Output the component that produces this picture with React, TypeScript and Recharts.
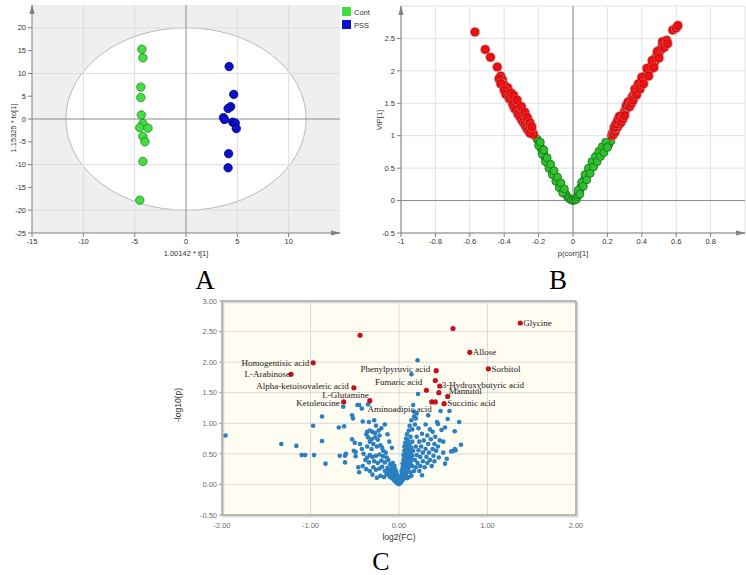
import React from "react";
import {
  ScatterChart,
  Scatter,
  XAxis,
  YAxis,
  CartesianGrid,
  ReferenceLine,
  ReferenceArea,
  ReferenceDot,
} from "recharts";

// ---------- Panel A: OPLS-DA score plot ----------
const contT = [-4.3, -4.2, -4.4, -4.4, -4.35, -4.2, -4.5, -3.7, -4.2, -4.0, -4.2, -4.5];
const contTo = [15.3, 13.4, 7.0, 4.7, 0.9, -1.0, -1.9, -2.0, -3.8, -5.0, -9.3, -17.8];
const pssT = [4.2, 4.65, 4.35, 4.1, 3.65, 3.75, 4.55, 4.8, 4.9, 4.15, 4.1];
const pssTo = [11.5, 5.4, 2.7, 2.3, 0.3, -0.1, -0.7, -0.9, -2.1, -7.6, -10.7];
const aTicksX = [-15, -10, -5, 0, 5, 10];
const aTicksY = [-25, -20, -15, -10, -5, 0, 5, 10, 15, 20];
const groupNames = ["Cont", "PSS"];

// ---------- Panel B: VIP vs p(corr) ----------
const bRed: [number, number][] = [
  [-0.57, 2.6], [-0.51, 2.33], [-0.48, 2.21], [-0.44, 2.06], [-0.42, 1.92], [-0.41, 1.86],
  [-0.415, 1.82], [-0.4, 1.78], [-0.395, 1.72], [-0.385, 1.68], [-0.38, 1.74], [-0.37, 1.64],
  [-0.36, 1.6], [-0.355, 1.55], [-0.35, 1.62], [-0.345, 1.5], [-0.34, 1.56], [-0.335, 1.47],
  [-0.33, 1.52], [-0.325, 1.42], [-0.32, 1.46], [-0.315, 1.38], [-0.31, 1.44], [-0.305, 1.33],
  [-0.3, 1.38], [-0.295, 1.28], [-0.29, 1.33], [-0.285, 1.24], [-0.28, 1.28], [-0.275, 1.2],
  [-0.27, 1.24], [-0.265, 1.15], [-0.26, 1.18], [-0.255, 1.1], [-0.25, 1.13], [-0.245, 1.06],
  [-0.24, 1.08], [-0.235, 1.04], [-0.23, 1.02],
  [-0.43, 1.88], [-0.42, 1.8], [-0.4, 1.7], [-0.39, 1.64], [-0.37, 1.57], [-0.36, 1.66],
  [-0.35, 1.48], [-0.34, 1.42], [-0.33, 1.4], [-0.32, 1.33], [-0.31, 1.3], [-0.3, 1.25],
  [-0.29, 1.21], [-0.28, 1.17], [-0.27, 1.12], [-0.26, 1.08], [-0.25, 1.04], [-0.345, 1.62],
  [-0.325, 1.55], [-0.3, 1.45], [-0.28, 1.36], [-0.265, 1.28], [-0.25, 1.2], [-0.24, 1.14],
  [0.225, 1.0], [0.23, 1.04], [0.235, 1.02], [0.24, 1.08], [0.245, 1.06], [0.25, 1.12],
  [0.255, 1.15], [0.26, 1.14], [0.265, 1.2], [0.27, 1.18], [0.275, 1.24], [0.28, 1.27],
  [0.285, 1.29], [0.29, 1.32], [0.295, 1.34], [0.3, 1.37], [0.305, 1.4], [0.31, 1.42],
  [0.315, 1.45], [0.32, 1.46], [0.325, 1.5], [0.33, 1.52], [0.335, 1.54], [0.34, 1.57],
  [0.345, 1.59], [0.35, 1.62], [0.36, 1.65], [0.365, 1.68], [0.37, 1.71], [0.38, 1.75],
  [0.39, 1.8], [0.4, 1.84], [0.41, 1.88], [0.42, 1.92], [0.435, 1.98], [0.45, 2.03],
  [0.46, 2.09], [0.475, 2.14], [0.48, 2.2], [0.49, 2.24], [0.5, 2.28], [0.51, 2.33],
  [0.52, 2.38], [0.53, 2.43], [0.58, 2.63], [0.6, 2.66], [0.61, 2.7],
  [0.24, 1.13], [0.25, 1.18], [0.26, 1.24], [0.27, 1.3], [0.28, 1.21], [0.29, 1.26],
  [0.3, 1.31], [0.31, 1.47], [0.32, 1.52], [0.33, 1.45], [0.34, 1.5], [0.35, 1.55],
  [0.36, 1.72], [0.37, 1.63], [0.38, 1.8], [0.39, 1.72], [0.4, 1.9], [0.41, 1.8],
  [0.43, 2.04], [0.44, 1.92], [0.46, 2.16], [0.47, 2.05], [0.49, 2.3], [0.5, 2.2],
  [0.52, 2.45], [0.53, 2.36], [0.545, 2.47], [0.55, 2.42],
];
const bGreen: [number, number][] = [
  [-0.21, 0.95], [-0.2, 0.91], [-0.195, 0.88], [-0.19, 0.84], [-0.185, 0.8], [-0.18, 0.78],
  [-0.175, 0.74], [-0.17, 0.71], [-0.165, 0.68], [-0.16, 0.66], [-0.155, 0.62], [-0.15, 0.6],
  [-0.145, 0.57], [-0.14, 0.55], [-0.135, 0.52], [-0.13, 0.5], [-0.125, 0.47], [-0.12, 0.45],
  [-0.115, 0.42], [-0.11, 0.4], [-0.1, 0.36], [-0.095, 0.33], [-0.09, 0.3], [-0.085, 0.28],
  [-0.08, 0.25], [-0.07, 0.21], [-0.065, 0.18], [-0.06, 0.16], [-0.05, 0.12], [-0.04, 0.09],
  [-0.03, 0.05], [-0.02, 0.03], [-0.01, 0.01], [0, 0.0],
  [-0.2, 0.85], [-0.19, 0.9], [-0.18, 0.72], [-0.17, 0.78], [-0.16, 0.6], [-0.15, 0.66],
  [-0.14, 0.5], [-0.13, 0.56], [-0.12, 0.4], [-0.11, 0.46], [-0.1, 0.3], [-0.09, 0.36],
  [-0.08, 0.2], [-0.07, 0.27], [-0.06, 0.12], [-0.05, 0.18],
  [0.01, 0.01], [0.02, 0.02], [0.025, 0.06], [0.03, 0.09], [0.035, 0.12], [0.04, 0.16],
  [0.045, 0.2], [0.05, 0.22], [0.055, 0.26], [0.06, 0.28], [0.065, 0.31], [0.07, 0.34],
  [0.075, 0.36], [0.08, 0.38], [0.085, 0.41], [0.09, 0.44], [0.095, 0.46], [0.1, 0.48],
  [0.105, 0.5], [0.11, 0.53], [0.115, 0.56], [0.12, 0.58], [0.125, 0.6], [0.13, 0.62],
  [0.135, 0.64], [0.14, 0.66], [0.145, 0.69], [0.15, 0.71], [0.16, 0.74], [0.17, 0.77],
  [0.18, 0.8], [0.19, 0.84], [0.2, 0.87], [0.205, 0.85], [0.21, 0.88], [0.22, 0.92],
  [0.03, 0.16], [0.04, 0.1], [0.05, 0.28], [0.06, 0.22], [0.07, 0.4], [0.08, 0.32],
  [0.09, 0.5], [0.1, 0.42], [0.11, 0.6], [0.12, 0.52], [0.13, 0.68], [0.14, 0.6],
  [0.15, 0.76], [0.16, 0.68], [0.17, 0.83], [0.18, 0.74], [0.19, 0.9], [0.2, 0.82],
];
const bTicksX = [-1, -0.8, -0.6, -0.4, -0.2, 0, 0.2, 0.4, 0.6, 0.8];
const bTicksY = [-0.5, 0, 0.5, 1, 1.5, 2, 2.5];

// ---------- Panel C: volcano plot ----------
const redFC = [1.37, 0.61, -0.44, 0.8, -0.97, 1.01, -1.22, 0.42, 0.41, 0.46, -0.51, 0.31, 0.45, 0.55, -0.33, -0.625, 0.37, 0.41, 0.51];
const redP = [2.64, 2.55, 2.44, 2.16, 1.99, 1.89, 1.8, 1.86, 1.7, 1.61, 1.58, 1.54, 1.5, 1.44, 1.37, 1.35, 1.35, 1.35, 1.32];
const redNames = [
  "Glycine", "", "", "Allose", "Homogentisic acid", "Sorbitol", "L-Arabinose",
  "Phenylpyruvic acid", "Fumaric acid", "3-Hydroxybutyric acid", "Alpha-ketoisovaleric acid",
  "", "", "Mannitol", "L-Glutamine", "Ketoleucine", "Aminoadipic acid", "", "Succinic acid",
];
const blueCloud: [number, number][] = [
  [-1.96, 0.8], [-1.33, 0.66], [-1.16, 0.63], [-1.1, 0.48], [-1.06, 0.48], [-0.96, 0.48],
  [-0.97, 0.96], [-0.87, 1.11], [-0.87, 0.71], [-0.83, 0.34], [-0.68, 0.93], [-0.62, 0.95],
  [-0.63, 1.27], [-0.67, 0.47], [-0.61, 0.47], [-0.61, 0.36], [-0.6, 0.5], [-0.53, 1.13],
  [-0.52, 1.08], [-0.53, 0.74], [-0.51, 0.55], [-0.49, 0.53], [-0.49, 0.46], [-0.47, 1.3],
  [-0.45, 1.3], [-0.46, 0.28], [-0.45, 0.2], [-0.42, 1.24], [-0.41, 1.03], [-0.35, 1.31],
  [-0.28, 1.05], [-0.34, 1.02], [-0.44, 0.66], [-0.42, 0.58], [-0.5, 0.68],
  [-0.36, 0.86], [-0.33, 0.88], [-0.3, 0.86], [-0.37, 0.82], [-0.27, 0.84], [-0.23, 0.88],
  [-0.22, 0.8], [-0.35, 0.77], [-0.31, 0.74], [-0.27, 0.77], [-0.24, 0.73], [-0.33, 0.7],
  [-0.29, 0.66], [-0.25, 0.62], [-0.21, 0.64], [-0.19, 0.6], [-0.36, 0.62], [-0.31, 0.58],
  [-0.18, 0.55], [-0.15, 0.52], [-0.4, 0.5], [-0.36, 0.44], [-0.33, 0.48], [-0.3, 0.45],
  [-0.26, 0.47], [-0.22, 0.49], [-0.18, 0.46], [-0.14, 0.44], [-0.38, 0.4], [-0.34, 0.36],
  [-0.28, 0.38], [-0.24, 0.35], [-0.2, 0.39], [-0.16, 0.36], [-0.12, 0.4], [-0.1, 0.33],
  [-0.41, 0.3], [-0.37, 0.25], [-0.33, 0.22], [-0.29, 0.28], [-0.26, 0.24], [-0.22, 0.26],
  [-0.19, 0.29], [-0.16, 0.22], [-0.13, 0.27], [-0.11, 0.23], [-0.3, 0.16], [-0.25, 0.11],
  [-0.21, 0.14], [-0.17, 0.12], [-0.14, 0.17], [-0.08, 0.18], [-0.26, 0.96], [-0.2, 0.92],
  [-0.16, 0.98], [-0.13, 0.82], [-0.11, 0.7], [-0.08, 0.6],
  [-0.12, 0.15], [-0.1, 0.12], [-0.09, 0.16], [-0.08, 0.1], [-0.07, 0.13], [-0.06, 0.08],
  [-0.06, 0.11], [-0.05, 0.06], [-0.05, 0.09], [-0.04, 0.05], [-0.04, 0.07], [-0.03, 0.04],
  [-0.03, 0.06], [-0.02, 0.03], [-0.02, 0.02], [-0.01, 0.02], [-0.01, 0.01], [0, 0.005],
  [-0.11, 0.2], [-0.09, 0.22], [-0.07, 0.19], [-0.06, 0.15], [-0.05, 0.13], [-0.04, 0.11],
  [-0.03, 0.09], [-0.02, 0.07], [-0.08, 0.28], [-0.06, 0.25], [-0.05, 0.2], [-0.04, 0.17],
  [-0.03, 0.14], [-0.02, 0.11], [-0.01, 0.06], [-0.07, 0.35], [-0.05, 0.3], [-0.04, 0.24],
  [-0.03, 0.2], [-0.02, 0.15], [-0.01, 0.1],
  [0.01, 0.02], [0.01, 0.05], [0.02, 0.03], [0.02, 0.08], [0.02, 0.12], [0.03, 0.05],
  [0.03, 0.1], [0.03, 0.16], [0.03, 0.22], [0.04, 0.07], [0.04, 0.13], [0.04, 0.19],
  [0.04, 0.27], [0.04, 0.34], [0.05, 0.09], [0.05, 0.16], [0.05, 0.24], [0.05, 0.31],
  [0.05, 0.4], [0.05, 0.48], [0.06, 0.12], [0.06, 0.2], [0.06, 0.28], [0.06, 0.36],
  [0.06, 0.44], [0.06, 0.55], [0.06, 0.62], [0.07, 0.15], [0.07, 0.23], [0.07, 0.32],
  [0.07, 0.41], [0.07, 0.5], [0.07, 0.68], [0.08, 0.18], [0.08, 0.27], [0.08, 0.37],
  [0.08, 0.46], [0.08, 0.58], [0.08, 0.75], [0.09, 0.21], [0.09, 0.3], [0.09, 0.42],
  [0.09, 0.53], [0.09, 0.64], [0.09, 0.82], [0.1, 0.25], [0.1, 0.35], [0.1, 0.48],
  [0.1, 0.6], [0.1, 0.72], [0.11, 0.28], [0.11, 0.4], [0.11, 0.55], [0.11, 0.88],
  [0.12, 0.32], [0.12, 0.45], [0.12, 0.66], [0.12, 0.96], [0.13, 0.36], [0.13, 0.52],
  [0.13, 0.78], [0.14, 0.41], [0.14, 0.6], [0.14, 1.05], [0.15, 0.47], [0.15, 0.7],
  [0.16, 1.3], [0.17, 1.19], [0.17, 1.11], [0.15, 0.9], [0.16, 0.55],
  [0.18, 0.4], [0.19, 0.62], [0.2, 0.48], [0.2, 0.78], [0.21, 0.35], [0.22, 0.56],
  [0.22, 0.92], [0.23, 0.7], [0.24, 0.45], [0.24, 0.3], [0.25, 0.62], [0.26, 0.83],
  [0.27, 0.52], [0.27, 0.38], [0.28, 0.72], [0.29, 0.28], [0.3, 0.98], [0.3, 0.58],
  [0.31, 0.45], [0.32, 0.8], [0.32, 0.35], [0.33, 1.13], [0.33, 0.66], [0.34, 0.52],
  [0.35, 0.4], [0.35, 0.9], [0.36, 0.74], [0.37, 0.3], [0.38, 0.86], [0.38, 0.58],
  [0.39, 0.47], [0.4, 0.66], [0.4, 0.38], [0.41, 0.78], [0.42, 0.55], [0.43, 1.02],
  [0.44, 0.99], [0.44, 0.62], [0.45, 0.44], [0.47, 1.2], [0.48, 0.89], [0.5, 0.52],
  [0.52, 0.93], [0.52, 0.34], [0.54, 0.42], [0.55, 1.07], [0.57, 1.2], [0.59, 0.54],
  [0.62, 0.55], [0.63, 0.58], [0.64, 0.56], [0.63, 0.87], [0.68, 1.02], [0.7, 0.65],
  [0.5, 0.7], [0.46, 0.72], [0.14, 1.8], [0.21, 2.03], [0.215, 1.48],
  [0.18, 0.98], [0.19, 1.08], [0.2, 1.16], [0.13, 0.2], [0.15, 0.3], [0.17, 0.22],
  [0.19, 0.28], [0.23, 0.22], [0.26, 0.15], [0.11, 0.12], [0.09, 0.1], [0.14, 0.14],
];
const cTicksX = [-2, -1, 0, 1, 2];
const cTicksY = [-0.5, 0, 0.5, 1, 1.5, 2, 2.5, 3];

// label placement next to the red points (px offsets)
const labelPlace: Record<string, { dx: number; dy: number; anchor: "start" | "end" }> = {
  Glycine: { dx: 3, dy: 3, anchor: "start" },
  Allose: { dx: 3, dy: 3, anchor: "start" },
  Sorbitol: { dx: 3, dy: 3, anchor: "start" },
  "Homogentisic acid": { dx: -4, dy: 3, anchor: "end" },
  "L-Arabinose": { dx: -1, dy: 3, anchor: "end" },
  "Phenylpyruvic acid": { dx: -6, dy: 1.5, anchor: "end" },
  "Fumaric acid": { dx: -13, dy: 5, anchor: "end" },
  "3-Hydroxybutyric acid": { dx: 2, dy: 2.5, anchor: "start" },
  "Alpha-ketoisovaleric acid": { dx: -5, dy: 1.5, anchor: "end" },
  Mannitol: { dx: 1, dy: -2, anchor: "start" },
  "Succinic acid": { dx: 3, dy: 2, anchor: "start" },
  "L-Glutamine": { dx: -1, dy: -3, anchor: "end" },
  Ketoleucine: { dx: -4, dy: 4, anchor: "end" },
  "Aminoadipic acid": { dx: 0, dy: 10, anchor: "end" },
};

const sans = "Liberation Sans, Arial, sans-serif";
const serif = "Liberation Serif, Times New Roman, serif";

const ellipseShape = (p: any) => (
  <ellipse
    cx={p.x + p.width / 2}
    cy={p.y + p.height / 2}
    rx={p.width / 2}
    ry={p.height / 2}
    fill="#ffffff"
    stroke="#a9a9a9"
    strokeWidth={0.8}
  />
);
const arrowRight = (p: any) => (
  <path d={`M${p.cx - 9},${p.cy - 2.5}L${p.cx + 1},${p.cy}L${p.cx - 9},${p.cy + 2.5}Z`} fill="#808080" />
);
const arrowUp = (p: any) => (
  <path d={`M${p.cx - 2.5},${p.cy + 9}L${p.cx},${p.cy - 1}L${p.cx + 2.5},${p.cy + 9}Z`} fill="#808080" />
);

function Txt({ x, y, children, size = 8, rotate = 0, font = sans, color = "#333" }: any) {
  return (
    <div
      style={{
        position: "absolute",
        left: x,
        top: y,
        transform: `translate(-50%,-50%) rotate(${rotate}deg)`,
        fontSize: size,
        fontFamily: font,
        color,
        whiteSpace: "nowrap",
        lineHeight: 1,
      }}
    >
      {children}
    </div>
  );
}

function PanelA() {
  const cont = contT.map((t, i) => ({ x: t, y: contTo[i] }));
  const pss = pssT.map((t, i) => ({ x: t, y: pssTo[i] }));
  const tick = { fontSize: 7.5, fill: "#333", fontFamily: sans };
  return (
    <ScatterChart width={370} height={270} margin={{ top: 5, right: 30, bottom: 17, left: 0 }}>
      <ReferenceArea x1={-15} x2={15} y1={-25} y2={25} fill="#efefef" fillOpacity={1} stroke="none" />
      <ReferenceArea x1={-11.7} x2={11.7} y1={-20} y2={20} shape={ellipseShape} />
      {[-10, -5, 5, 10].map((v) => (
        <ReferenceLine key={"gx" + v} x={v} stroke="#dedede" />
      ))}
      {[-20, -10, 10, 20].map((v) => (
        <ReferenceLine key={"gy" + v} y={v} stroke="#dedede" />
      ))}
      <ReferenceLine x={0} stroke="#8a8a8a" />
      <ReferenceLine y={0} stroke="#8a8a8a" />
      <XAxis
        type="number"
        dataKey="x"
        domain={[-15, 15]}
        ticks={aTicksX}
        interval={0}
        stroke="#808080"
        tickSize={4}
        tick={tick}
        height={20}
      />
      <YAxis
        type="number"
        dataKey="y"
        domain={[-25, 25]}
        ticks={aTicksY}
        interval={0}
        stroke="#808080"
        tickSize={4}
        tick={tick}
        width={32}
      />
      <Scatter
        name={groupNames[0]}
        data={cont}
        isAnimationActive={false}
        shape={(p: any) => <circle cx={p.cx} cy={p.cy} r={4.2} fill="#3fe03f" stroke="#2a7d2a" strokeWidth={0.8} />}
      />
      <Scatter
        name={groupNames[1]}
        data={pss}
        isAnimationActive={false}
        shape={(p: any) => <circle cx={p.cx} cy={p.cy} r={4.2} fill="#0c12cc" stroke="#000070" strokeWidth={0.8} />}
      />
      <ReferenceDot x={15} y={-25} ifOverflow="visible" shape={arrowRight} />
      <ReferenceDot x={-15} y={25} ifOverflow="visible" shape={arrowUp} />
    </ScatterChart>
  );
}

function PanelB() {
  const red = bRed.map(([x, y]) => ({ x, y }));
  const green = bGreen.map(([x, y]) => ({ x, y }));
  const tick = { fontSize: 7.5, fill: "#333", fontFamily: sans };
  return (
    <ScatterChart width={386} height={270} margin={{ top: 6, right: 1, bottom: 17, left: 0 }}>
      <CartesianGrid stroke="#e3e3e3" />
      <ReferenceLine x={0} stroke="#8a8a8a" />
      <ReferenceLine y={0} stroke="#8a8a8a" />
      <XAxis
        type="number"
        dataKey="x"
        domain={[-1, 1]}
        ticks={bTicksX}
        interval={0}
        stroke="#808080"
        tickSize={4}
        tick={tick}
        height={20}
        tickFormatter={(v: number) => String(v)}
      />
      <YAxis
        type="number"
        dataKey="y"
        domain={[-0.5, 3]}
        ticks={bTicksY}
        interval={0}
        stroke="#808080"
        tickSize={4}
        tick={tick}
        width={41}
        tickFormatter={(v: number) => String(v)}
      />
      <Scatter
        data={green}
        isAnimationActive={false}
        shape={(p: any) => <circle cx={p.cx} cy={p.cy} r={4} fill="#2fc02f" stroke="#166e16" strokeWidth={0.8} />}
      />
      <Scatter
        data={red}
        isAnimationActive={false}
        shape={(p: any) => (
          <g>
            <circle cx={p.cx} cy={p.cy} r={5.3} fill="#d86a6a" fillOpacity={0.55} />
            <circle cx={p.cx} cy={p.cy} r={4} fill="#f20f0f" stroke="#a00000" strokeWidth={0.6} />
          </g>
        )}
      />
      <ReferenceDot x={1} y={-0.5} ifOverflow="visible" shape={arrowRight} />
      <ReferenceDot x={-1} y={3} ifOverflow="visible" shape={arrowUp} />
    </ScatterChart>
  );
}

function PanelC() {
  const blue = blueCloud.map(([x, y]) => ({ x, y }));
  const red = redFC.map((x, i) => ({ x, y: redP[i], name: redNames[i] }));
  const tick = { fontSize: 7.5, fill: "#6d6d6d", fontFamily: sans };
  const border = (p: any) => (
    <g>
      <rect x={p.x + 1.5} y={p.y + 1.5} width={p.width} height={p.height} fill="none" stroke="#d4d4d4" strokeWidth={1.5} />
      <rect x={p.x} y={p.y} width={p.width} height={p.height} fill="none" stroke="#a0a0a0" strokeWidth={1.3} />
    </g>
  );
  return (
    <ScatterChart width={430} height={280} margin={{ top: 11, right: 14, bottom: 35, left: 32 }}>
      <CartesianGrid stroke="#dadada" fill="#fffcf1" fillOpacity={1} />
      <XAxis
        type="number"
        dataKey="x"
        domain={[-2, 2]}
        ticks={cTicksX}
        interval={0}
        axisLine={false}
        tickLine={false}
        tick={tick}
        height={20}
        tickFormatter={(v: number) => v.toFixed(2)}
      />
      <YAxis
        type="number"
        dataKey="y"
        domain={[-0.5, 3]}
        ticks={cTicksY}
        interval={0}
        axisLine={false}
        tickLine={{ stroke: "#a0a0a0" }}
        tickSize={3}
        tick={tick}
        width={30}
        tickFormatter={(v: number) => v.toFixed(2)}
      />
      <ReferenceArea x1={-2} x2={2} y1={-0.5} y2={3} ifOverflow="visible" shape={border} />
      <Scatter
        data={blue}
        isAnimationActive={false}
        shape={(p: any) => <circle cx={p.cx} cy={p.cy} r={2.3} fill="#2a7fc1" />}
      />
      <Scatter
        data={red}
        isAnimationActive={false}
        shape={(p: any) => {
          const name = p.payload?.name ?? "";
          const pl = labelPlace[name];
          return (
            <g>
              <circle cx={p.cx} cy={p.cy} r={2.6} fill="#c0131b" />
              {pl && (
                <text
                  x={p.cx + pl.dx}
                  y={p.cy + pl.dy}
                  textAnchor={pl.anchor}
                  fontSize={9}
                  fontFamily={serif}
                  fill="#1a1a1a"
                >
                  {name}
                </text>
              )}
            </g>
          );
        }}
      />
    </ScatterChart>
  );
}

export default function App() {
  return (
    <div style={{ position: "absolute", left: 0, top: 0, width: 746, height: 575, background: "#fff", overflow: "hidden" }}>
      <div style={{ position: "absolute", left: 0, top: 0 }}>
        <PanelA />
      </div>
      <div style={{ position: "absolute", left: 360, top: 0 }}>
        <PanelB />
      </div>
      <div style={{ position: "absolute", left: 160, top: 290 }}>
        <PanelC />
      </div>

      {/* legend of panel A */}
      <div style={{ position: "absolute", left: 342, top: 7, width: 9, height: 9, background: "#3fe03f" }} />
      <div style={{ position: "absolute", left: 342, top: 20, width: 9, height: 9, background: "#0c12cc" }} />
      <div style={{ position: "absolute", left: 354, top: 8, fontSize: 7.5, fontFamily: sans, color: "#333" }}>{groupNames[0]}</div>
      <div style={{ position: "absolute", left: 354, top: 21, fontSize: 7.5, fontFamily: sans, color: "#333" }}>{groupNames[1]}</div>

      <Txt x={14} y={128} rotate={-90} size={7.5}>1.15325 * to[1]</Txt>
      <Txt x={186} y={254} size={7.5}>1.00142 * t[1]</Txt>
      <Txt x={380} y={120} rotate={-90} size={7.5}>VIP[1]</Txt>
      <Txt x={573} y={254} size={7.5}>p(corr)[1]</Txt>
      <Txt x={178} y={405} rotate={-90} size={8.5}>-log10(p)</Txt>
      <Txt x={399} y={537} size={8.5}>log2(FC)</Txt>

      <Txt x={205} y={280} size={27} font={serif} color="#000">A</Txt>
      <Txt x={558} y={280} size={27} font={serif} color="#000">B</Txt>
      <Txt x={381} y={562} size={26} font={serif} color="#000">C</Txt>
    </div>
  );
}
